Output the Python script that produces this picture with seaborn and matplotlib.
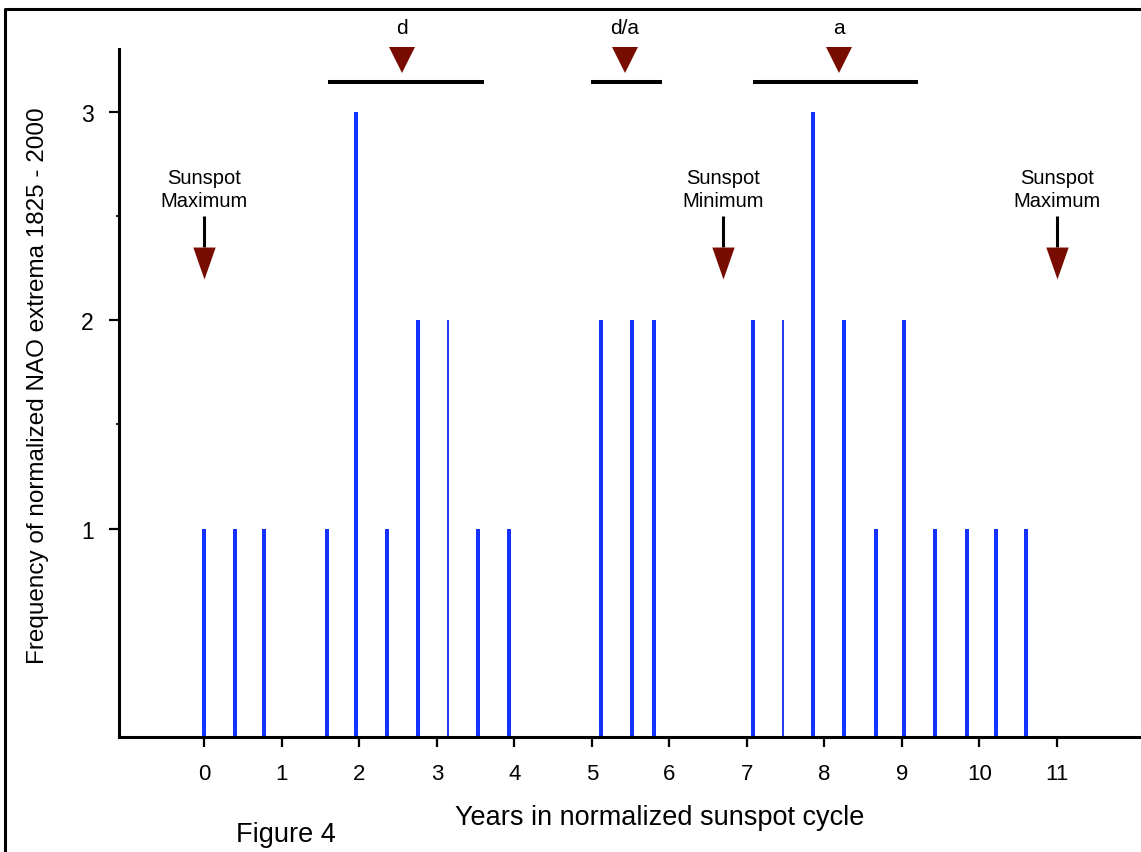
import numpy as np
import pandas as pd
import matplotlib
matplotlib.use("Agg")
import matplotlib.pyplot as plt
import matplotlib.lines as mlines
import seaborn as sns

# ---------------- data ----------------
years = [0.00, 0.40, 0.77, 1.58, 1.95, 2.35, 2.75, 3.53, 3.93, 5.11, 5.51, 5.80,
         7.08, 7.85, 8.25, 8.66, 9.03, 9.43, 9.84, 10.21, 10.60]
freq = [1, 1, 1, 1, 3, 1, 2, 1, 1, 2, 2, 2, 2, 3, 2, 1, 2, 1, 1, 1, 1]
thin_years = [3.14, 7.47]
thin_freq = [2, 2]

x_ticks = list(range(0, 12))
y_ticks = [1, 2, 3]
y_minor = [1.5, 2.5]

phase_labels = ["d", "d/a", "a"]
phase_centers = [2.55, 5.42, 8.19]
phase_starts = [1.59, 4.99, 7.08]
phase_ends = [3.61, 5.90, 9.21]

sunspot_labels = ["Sunspot\nMaximum", "Sunspot\nMinimum", "Sunspot\nMaximum"]
sunspot_years = [0.0, 6.69, 11.0]

# ---------------- style ----------------
BAR = "#1432ff"
BAR_THIN = "#2440f0"
RED = "#780c00"

sns.set_style("ticks")
plt.rcParams["font.family"] = ["Liberation Sans", "DejaVu Sans"]
plt.rcParams.update({
    "text.color": "black",
    "axes.labelcolor": "black",
    "xtick.color": "black",
    "ytick.color": "black",
    "axes.edgecolor": "black",
})

W, H = 1141, 853
fig = plt.figure(figsize=(W / 100, H / 100), dpi=100)
ax = fig.add_axes([119 / W, 115 / H, 1022 / W, 688 / H])

px_per_unit = 77.5
df = pd.DataFrame({"year": years, "freq": freq})
df_thin = pd.DataFrame({"year": thin_years, "freq": thin_freq})

thick_w = 4.0 / px_per_unit
thin_w = 2.0 / px_per_unit
sns.barplot(data=df, x="year", y="freq", native_scale=True,
            width=thick_w / np.min(np.diff(np.sort(df["year"].values))),
            color=BAR, saturation=1, linewidth=0, errorbar=None, ax=ax)
sns.barplot(data=df_thin, x="year", y="freq", native_scale=True,
            width=thin_w / np.min(np.diff(np.sort(df_thin["year"].values))),
            color=BAR_THIN, saturation=1, linewidth=0, errorbar=None, ax=ax)

ax.set_xlim(-1.103, 12.084)
ax.set_ylim(0, 3.30)
ax.set_xticks(x_ticks)
ax.set_xticklabels([str(t) for t in x_ticks])
ax.set_yticks(y_ticks)
ax.set_yticklabels([str(t) for t in y_ticks])
ax.set_yticks(y_minor, minor=True)
ax.tick_params(axis="x", which="major", length=7, width=1.6, pad=12, labelsize=16)
ax.tick_params(axis="y", which="major", length=7, width=1.6, pad=11, labelsize=16.5)
ax.tick_params(axis="y", which="minor", length=2.5, width=1.2)
ax.tick_params(axis="x", which="minor", bottom=False)
for s in ["top", "right"]:
    ax.spines[s].set_visible(False)
for s in ["left", "bottom"]:
    ax.spines[s].set_linewidth(2.2)
    ax.spines[s].set_color("black")

ax.set_xlabel("Years in normalized sunspot cycle", fontsize=19.5, va="center")
ax.xaxis.set_label_coords((660 - 119) / 1022, (738 - 818) / 688)
ax.set_ylabel("Frequency of normalized NAO extrema 1825 - 2000", fontsize=17.5, va="center")
ax.yaxis.set_label_coords((38 - 119) / 1022, (738 - 386) / 688)

# phase bars with markers at the top
for lab, c, s, e in zip(phase_labels, phase_centers, phase_starts, phase_ends):
    ax.plot([s, e], [3.144, 3.144], color="black", lw=2.9, clip_on=False,
            solid_capstyle="butt")
    ax.plot([c], [3.245], marker="v", ms=19.4, color=RED, mew=0, ls="none",
            clip_on=False)
    ax.text(c, 3.405, lab, ha="center", va="center", fontsize=15, clip_on=False)

# sunspot max/min arrows
tri = [(-0.35, 0.5), (0.35, 0.5), (0.0, -0.5)]
for lab, x in zip(sunspot_labels, sunspot_years):
    ax.plot([x, x], [2.499, 2.35], color="black", lw=2.2, solid_capstyle="butt")
    ax.plot([x], [2.273], marker=tri, ms=23, color=RED, mew=0, ls="none")
    ax.text(x, 2.628, lab, ha="center", va="center", fontsize=14.5, linespacing=1.25)

fig.text(286 / W, 1 - 835 / H, "Figure 4", ha="center", va="center", fontsize=19.5)

# frame lines (top and left) of the original image
fig.add_artist(mlines.Line2D([5 / W, 5 / W, 1.0], [0.0, 1 - 10 / H, 1 - 10 / H],
                             transform=fig.transFigure, color="black", lw=2.2))

fig.savefig("out.png", dpi=100)
